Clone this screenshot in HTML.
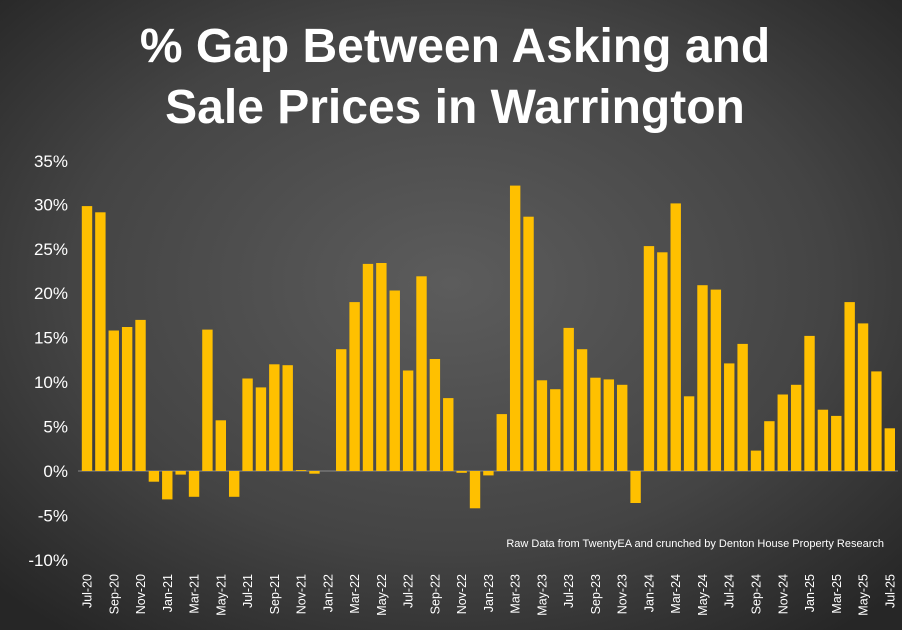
<!DOCTYPE html>
<html><head><style>
body{margin:0;background:#000}
svg{display:block}
</style></head><body>
<svg width="902" height="630" xmlns="http://www.w3.org/2000/svg" font-family="Liberation Sans, sans-serif">
<defs>
<radialGradient id="bg" cx="50%" cy="45%" r="70%">
<stop offset="0" stop-color="#5c5c5c"/>
<stop offset="0.6" stop-color="#444"/>
<stop offset="1" stop-color="#262626"/>
</radialGradient>
</defs>
<rect width="902" height="630" fill="url(#bg)"/>
<text x="455" y="62" text-anchor="middle" fill="#fff" font-size="48" font-weight="bold">% Gap Between Asking and</text>
<text x="455" y="123" text-anchor="middle" fill="#fff" font-size="48" font-weight="bold">Sale Prices in Warrington</text>
<line x1="78" x2="898" y1="471" y2="471" stroke="#8a8a8a" stroke-width="1"/>
<g fill="#fff" font-size="17" text-anchor="end">
<text x="68" y="166.9">35%</text>
<text x="68" y="210.3">30%</text>
<text x="68" y="254.8">25%</text>
<text x="68" y="299.2">20%</text>
<text x="68" y="343.7">15%</text>
<text x="68" y="388.1">10%</text>
<text x="68" y="432.6">5%</text>
<text x="68" y="477">0%</text>
<text x="68" y="521.5">-5%</text>
<text x="68" y="565.9">-10%</text>
</g>
<g fill="#FFC000">
<rect x="81.8" y="206.1" width="10.4" height="264.9"/>
<rect x="95.18" y="212.3" width="10.4" height="258.7"/>
<rect x="108.56" y="330.5" width="10.4" height="140.5"/>
<rect x="121.94" y="327" width="10.4" height="144"/>
<rect x="135.32" y="319.9" width="10.4" height="151.1"/>
<rect x="148.7" y="471" width="10.4" height="10.7"/>
<rect x="162.08" y="471" width="10.4" height="28.4"/>
<rect x="175.46" y="471" width="10.4" height="3.6"/>
<rect x="188.84" y="471" width="10.4" height="25.8"/>
<rect x="202.22" y="329.6" width="10.4" height="141.4"/>
<rect x="215.6" y="420.3" width="10.4" height="50.7"/>
<rect x="228.98" y="471" width="10.4" height="25.8"/>
<rect x="242.36" y="378.5" width="10.4" height="92.5"/>
<rect x="255.74" y="387.4" width="10.4" height="83.6"/>
<rect x="269.12" y="364.3" width="10.4" height="106.7"/>
<rect x="282.5" y="365.2" width="10.4" height="105.8"/>
<rect x="295.88" y="470.1" width="10.4" height="0.9"/>
<rect x="309.26" y="471" width="10.4" height="2.7"/>
<rect x="336.02" y="349.2" width="10.4" height="121.8"/>
<rect x="349.4" y="302.1" width="10.4" height="168.9"/>
<rect x="362.78" y="263.9" width="10.4" height="207.1"/>
<rect x="376.16" y="263" width="10.4" height="208"/>
<rect x="389.54" y="290.5" width="10.4" height="180.5"/>
<rect x="402.92" y="370.5" width="10.4" height="100.5"/>
<rect x="416.3" y="276.3" width="10.4" height="194.7"/>
<rect x="429.68" y="359" width="10.4" height="112"/>
<rect x="443.06" y="398.1" width="10.4" height="72.9"/>
<rect x="456.44" y="471" width="10.4" height="1.8"/>
<rect x="469.82" y="471" width="10.4" height="37.3"/>
<rect x="483.2" y="471" width="10.4" height="4.4"/>
<rect x="496.58" y="414.1" width="10.4" height="56.9"/>
<rect x="509.96" y="185.6" width="10.4" height="285.4"/>
<rect x="523.34" y="216.7" width="10.4" height="254.3"/>
<rect x="536.72" y="380.3" width="10.4" height="90.7"/>
<rect x="550.1" y="389.2" width="10.4" height="81.8"/>
<rect x="563.48" y="327.9" width="10.4" height="143.1"/>
<rect x="576.86" y="349.2" width="10.4" height="121.8"/>
<rect x="590.24" y="377.7" width="10.4" height="93.3"/>
<rect x="603.62" y="379.4" width="10.4" height="91.6"/>
<rect x="617" y="384.8" width="10.4" height="86.2"/>
<rect x="630.38" y="471" width="10.4" height="32"/>
<rect x="643.76" y="246.1" width="10.4" height="224.9"/>
<rect x="657.14" y="252.3" width="10.4" height="218.7"/>
<rect x="670.52" y="203.4" width="10.4" height="267.6"/>
<rect x="683.9" y="396.3" width="10.4" height="74.7"/>
<rect x="697.28" y="285.2" width="10.4" height="185.8"/>
<rect x="710.66" y="289.6" width="10.4" height="181.4"/>
<rect x="724.04" y="363.4" width="10.4" height="107.6"/>
<rect x="737.42" y="343.9" width="10.4" height="127.1"/>
<rect x="750.8" y="450.6" width="10.4" height="20.4"/>
<rect x="764.18" y="421.2" width="10.4" height="49.8"/>
<rect x="777.56" y="394.5" width="10.4" height="76.5"/>
<rect x="790.94" y="384.8" width="10.4" height="86.2"/>
<rect x="804.32" y="335.9" width="10.4" height="135.1"/>
<rect x="817.7" y="409.7" width="10.4" height="61.3"/>
<rect x="831.08" y="415.9" width="10.4" height="55.1"/>
<rect x="844.46" y="302.1" width="10.4" height="168.9"/>
<rect x="857.84" y="323.4" width="10.4" height="147.6"/>
<rect x="871.22" y="371.4" width="10.4" height="99.6"/>
<rect x="884.6" y="428.3" width="10.4" height="42.7"/>
</g>
<g fill="#fff" font-size="12.5" text-anchor="end">
<text transform="translate(91.5,574) rotate(-90)">Jul-20</text>
<text transform="translate(118.26,574) rotate(-90)">Sep-20</text>
<text transform="translate(145.02,574) rotate(-90)">Nov-20</text>
<text transform="translate(171.78,574) rotate(-90)">Jan-21</text>
<text transform="translate(198.54,574) rotate(-90)">Mar-21</text>
<text transform="translate(225.3,574) rotate(-90)">May-21</text>
<text transform="translate(252.06,574) rotate(-90)">Jul-21</text>
<text transform="translate(278.82,574) rotate(-90)">Sep-21</text>
<text transform="translate(305.58,574) rotate(-90)">Nov-21</text>
<text transform="translate(332.34,574) rotate(-90)">Jan-22</text>
<text transform="translate(359.1,574) rotate(-90)">Mar-22</text>
<text transform="translate(385.86,574) rotate(-90)">May-22</text>
<text transform="translate(412.62,574) rotate(-90)">Jul-22</text>
<text transform="translate(439.38,574) rotate(-90)">Sep-22</text>
<text transform="translate(466.14,574) rotate(-90)">Nov-22</text>
<text transform="translate(492.9,574) rotate(-90)">Jan-23</text>
<text transform="translate(519.66,574) rotate(-90)">Mar-23</text>
<text transform="translate(546.42,574) rotate(-90)">May-23</text>
<text transform="translate(573.18,574) rotate(-90)">Jul-23</text>
<text transform="translate(599.94,574) rotate(-90)">Sep-23</text>
<text transform="translate(626.7,574) rotate(-90)">Nov-23</text>
<text transform="translate(653.46,574) rotate(-90)">Jan-24</text>
<text transform="translate(680.22,574) rotate(-90)">Mar-24</text>
<text transform="translate(706.98,574) rotate(-90)">May-24</text>
<text transform="translate(733.74,574) rotate(-90)">Jul-24</text>
<text transform="translate(760.5,574) rotate(-90)">Sep-24</text>
<text transform="translate(787.26,574) rotate(-90)">Nov-24</text>
<text transform="translate(814.02,574) rotate(-90)">Jan-25</text>
<text transform="translate(840.78,574) rotate(-90)">Mar-25</text>
<text transform="translate(867.54,574) rotate(-90)">May-25</text>
<text transform="translate(894.3,574) rotate(-90)">Jul-25</text>
</g>
<text x="884" y="547" text-anchor="end" fill="#fff" font-size="11">Raw Data from TwentyEA and crunched by Denton House Property Research</text>
</svg>
</body></html>
